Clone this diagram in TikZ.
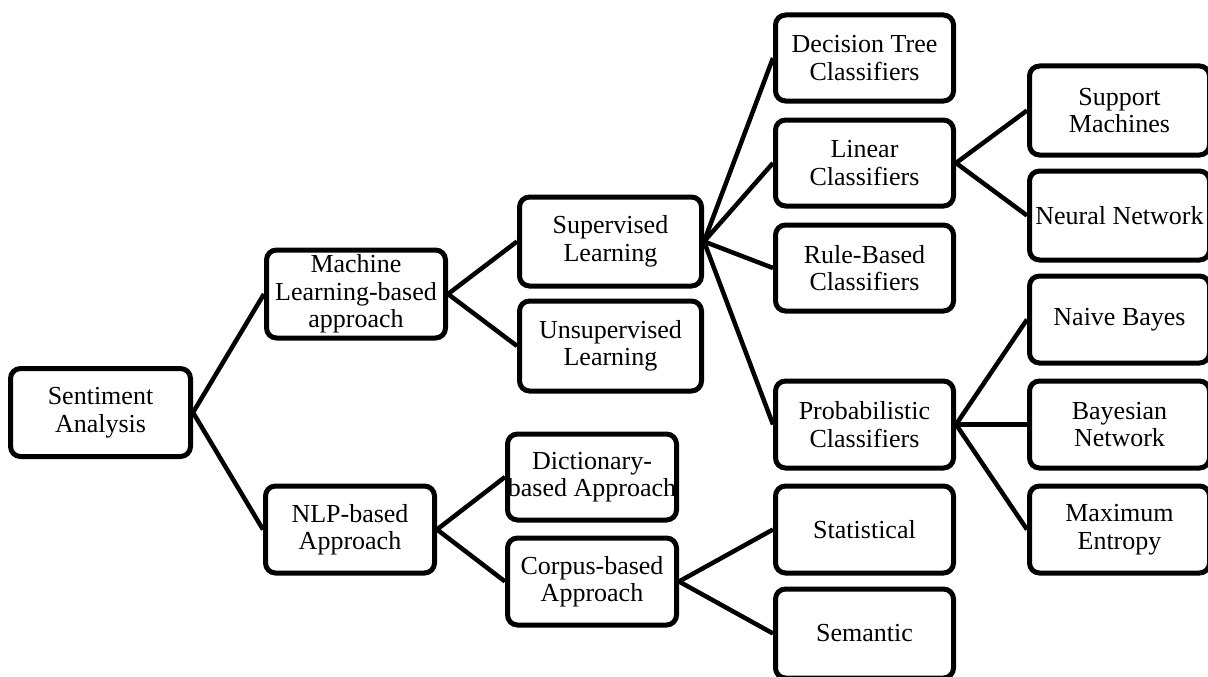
\documentclass[tikz,border=0pt]{standalone}
\usepackage{fontspec}
\setmainfont{Liberation Serif}
\begin{document}
\begin{tikzpicture}[x=1pt, y=-1pt,
  box/.style={draw, line width=5pt, rounded corners=10pt, fill=white,
    align=center, inner sep=0pt, font=\fontsize{26}{27.5}\selectfont},
  link/.style={line width=4.5pt}]
\useasboundingbox (0,0) rectangle (1208,677);

% level 0
\node[box, minimum width=180pt, minimum height=88pt] (sa) at (100.5,412.5) {Sentiment\\Analysis};

% level 1
\node[box, minimum width=179pt, minimum height=88pt] (ml) at (356,294) {Machine\\Learning-based\\approach};
\node[box, minimum width=169pt, minimum height=87pt] (nlp) at (350,529.5) {NLP-based\\Approach};

% level 2
\node[box, minimum width=182pt, minimum height=89pt] (sup) at (610.5,241.5) {Supervised\\Learning};
\node[box, minimum width=182pt, minimum height=90pt] (uns) at (610.5,346) {Unsupervised\\Learning};
\node[box, minimum width=169pt, minimum height=86pt] (dict) at (592,477) {Dictionary-\\based Approach};
\node[box, minimum width=169pt, minimum height=87pt] (corp) at (592,581.5) {Corpus-based\\Approach};

% level 3
\node[box, minimum width=178pt, minimum height=86pt] (dt) at (864.5,58) {Decision Tree\\Classifiers};
\node[box, minimum width=178pt, minimum height=86pt] (lin) at (864.5,163) {Linear\\Classifiers};
\node[box, minimum width=178pt, minimum height=86pt] (rule) at (864.5,268) {Rule-Based\\Classifiers};
\node[box, minimum width=178pt, minimum height=87pt] (prob) at (864.5,424.5) {Probabilistic\\Classifiers};
\node[box, minimum width=178pt, minimum height=87pt] (stat) at (864.5,529.5) {Statistical};
\node[box, minimum width=178pt, minimum height=89pt] (sem) at (864.5,633.5) {Semantic};

% level 4
\node[box, minimum width=180pt, minimum height=89pt] (svm) at (1119.5,110.5) {Support\\Machines};
\node[box, minimum width=180pt, minimum height=89pt] (nn) at (1119.5,215.5) {Neural Network};
\node[box, minimum width=180pt, minimum height=87pt] (nb) at (1119.5,319.5) {Naive Bayes};
\node[box, minimum width=180pt, minimum height=87pt] (bn) at (1119.5,424.5) {Bayesian\\Network};
\node[box, minimum width=180pt, minimum height=87pt] (me) at (1119.5,529.5) {Maximum\\Entropy};

% connectors
\draw[link] (sa.east) -- (ml.west);
\draw[link] (sa.east) -- (nlp.west);
\draw[link] (ml.east) -- (sup.west);
\draw[link] (ml.east) -- (uns.west);
\draw[link] (nlp.east) -- (dict.west);
\draw[link] (nlp.east) -- (corp.west);
\draw[link] (sup.east) -- (dt.west);
\draw[link] (sup.east) -- (lin.west);
\draw[link] (sup.east) -- (rule.west);
\draw[link] (sup.east) -- (prob.west);
\draw[link] (corp.east) -- (stat.west);
\draw[link] (corp.east) -- (sem.west);
\draw[link] (lin.east) -- (svm.west);
\draw[link] (lin.east) -- (nn.west);
\draw[link] (prob.east) -- (nb.west);
\draw[link] (prob.east) -- (bn.west);
\draw[link] (prob.east) -- (me.west);
\end{tikzpicture}
\end{document}
